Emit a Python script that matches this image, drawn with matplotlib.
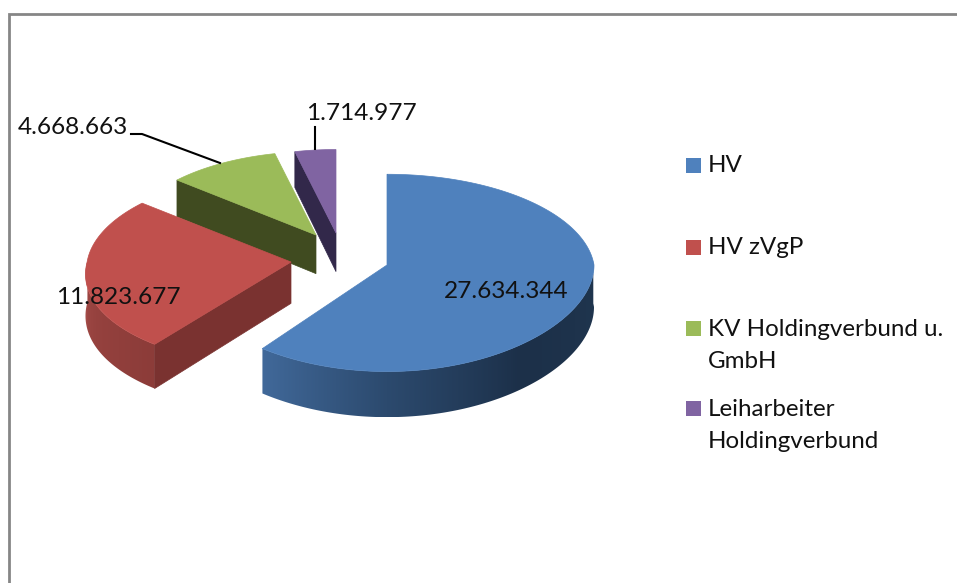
import numpy as np
import matplotlib
matplotlib.use('Agg')
import matplotlib.pyplot as plt
from matplotlib.patches import Polygon, Rectangle
from matplotlib.colors import to_rgb

categories = ['HV', 'HV zVgP', 'KV Holdingverbund u.\nGmbH', 'Leiharbeiter\nHoldingverbund']
values = [27634344, 11823677, 4668663, 1714977]
top_colors = ['#4F81BD', '#C0504D', '#9BBB59', '#8064A2']
cut_colors = ['#1c3049', '#7a3230', '#404b20', '#32284a']

# where each exploded slice has its tip, in pixels, and how much it shrinks toward the back
tips = [(387, 265), (291, 262), (316, 235), (336, 233)]
shrink = [1.0, 0.985, 0.92, 0.92]
near_x = [0, 0.125, 0, 0]

RX, RY, PERSP, DEPTH = 207, 98, 0.08, 42

plt.rcParams['font.family'] = ['Lato', 'DejaVu Sans']

fig = plt.figure(figsize=(9.57, 5.83), dpi=100)
ax = fig.add_axes([0, 0, 1, 1])


def rim(i, t):
    # t is degrees clockwise from the top of the pie
    a = np.radians(t)
    c = np.cos(a)
    s = 1 / (1 + PERSP * c)
    sx = 1 / (1 + PERSP * c) if c > 0 else 1 / (1 + near_x[i] * c)
    k = shrink[i]
    return tips[i][0] + k * RX * np.sin(a) * sx, tips[i][1] - k * RY * c * s, k * DEPTH * s


def wall(i, t0, t1, stops, zorder):
    ts = np.arange(t0, t1 + 0.01, 1.0)
    pts = [rim(i, t) for t in ts]
    outline = [(p[0], p[1]) for p in pts] + [(p[0], p[1] + p[2]) for p in pts[::-1]]
    poly = Polygon(outline, fc='none', ec='none', zorder=zorder)
    ax.add_patch(poly)
    xs = np.array([p[0] for p in pts])
    order = np.argsort(xs)
    grid = np.linspace(xs.min(), xs.max(), 300)
    t_grid = np.interp(grid, xs[order], ts[order])
    rgb = np.array([to_rgb(p[1]) for p in stops])
    stop_t = [p[0] for p in stops]
    img = np.stack([np.interp(t_grid, stop_t, rgb[:, j]) for j in range(3)], axis=-1)[None, :, :]
    ys = [p[1] for p in outline]
    im = ax.imshow(img, extent=(xs.min(), xs.max(), max(ys), min(ys)), aspect='auto', zorder=zorder)
    im.set_clip_path(poly)


def cut(i, t, color, zorder):
    x, y, d = rim(i, t)
    tip = tips[i]
    ax.add_patch(Polygon([tip, (x, y), (x, y + d), (tip[0], tip[1] + DEPTH * shrink[i])],
                         fc=color, ec=color, lw=0.5, zorder=zorder))


def top(i, t0, t1, color, zorder):
    ts = np.append(np.arange(t0, t1 + 0.01, 1.0), t1)
    pts = [tips[i]] + [rim(i, t)[:2] for t in ts]
    ax.add_patch(Polygon(pts, fc=color, ec=color, lw=0.5, zorder=zorder))


sweeps = 360 * np.array(values) / sum(values)
ends = np.cumsum(sweeps)
starts = ends - sweeps

# back slices first
cut(3, starts[3], cut_colors[3], 2)
top(3, starts[3], ends[3], top_colors[3], 3)
cut(2, starts[2], cut_colors[2], 4)
top(2, starts[2], ends[2], top_colors[2], 5)
wall(1, starts[1], 272, [(217, '#8c3c39'), (245, '#96423f'), (272, '#aa4f4b')], 6)
cut(1, starts[1], cut_colors[1], 7)
top(1, starts[1], ends[1], top_colors[1], 8)
cut(0, 0, cut_colors[0], 6)
wall(0, 88, starts[1], [(88, '#20364f'), (140, '#1c3049'), (180, '#2c4a6e'), (217, '#41699a')], 9)
top(0, 0, ends[0], top_colors[0], 10)

# frame of the picture
ax.plot([9, 9, 957], [583, 14, 14], color='#868686', lw=2, solid_joinstyle='miter', zorder=1)

# leader lines
ax.plot([131, 142, 220], [134, 134, 163], color='black', lw=1.5, zorder=11)
ax.plot([315, 315], [127, 149], color='black', lw=1.5, zorder=11)


def fmt(v):
    return f'{v:,}'.replace(',', '.')


label_pos = [(506, 291), (118, 298), (73, 128), (361, 113)]
for v, (x, y) in zip(values, label_pos):
    ax.text(x, y, fmt(v), ha='center', va='center', fontsize=17.6, color='#111111', zorder=12)

legend_y = [165, 247, 328, 408]
for name, color, y in zip(categories, top_colors, legend_y):
    ax.add_patch(Rectangle((686, y - 7), 15, 15, fc=color, ec='none'))
    for i, line in enumerate(name.split('\n')):
        ax.text(708, y + 1 + 32 * i, line, ha='left', va='center', fontsize=17.4, color='#111111')

ax.set_xlim(0, 957)
ax.set_ylim(583, 0)
ax.axis('off')

fig.savefig('out.png', dpi=100)
